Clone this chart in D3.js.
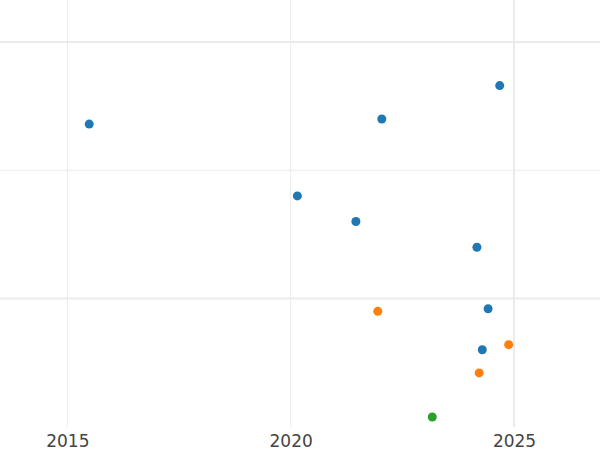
<!DOCTYPE html>
<html>
<head>
<meta charset="utf-8">
<script src="https://cdn.jsdelivr.net/npm/d3@7"></script>
<style>
  html, body { margin: 0; padding: 0; background: #fff; }
  svg { display: block; }
</style>
</head>
<body>
<svg id="chart" width="600" height="450"></svg>
<script>
// Data
const blueX   = [2015.49, 2022.04, 2024.68, 2020.15, 2021.46, 2024.17, 2024.42, 2024.29];
const blueY   = [2.36, 2.40, 2.66, 1.80, 1.60, 1.40, 0.92, 0.60];
const orangeX = [2021.95, 2024.88, 2024.22];
const orangeY = [0.90, 0.64, 0.42];
const greenX  = [2023.17];
const greenY  = [0.076];
const xTicks  = [2015, 2020, 2025];
const yGrid   = [1, 2, 3];

const series = [
  { xs: blueX,   ys: blueY,   color: "#1f77b4" },
  { xs: orangeX, ys: orangeY, color: "#ff7f0e" },
  { xs: greenX,  ys: greenY,  color: "#2ca02c" }
];

const svg = d3.select("#chart");
const x = d3.scaleLinear().domain([2013.493, 2026.925]).range([0, 600]);
const y = d3.scaleLinear().domain([0, 3.3275]).range([426.75, 0]);

const grid = svg.append("g");
grid.selectAll("line.v").data(xTicks).join("line")
  .attr("class", "v")
  .attr("x1", d => x(d)).attr("x2", d => x(d))
  .attr("y1", 0).attr("y2", 427)
  .attr("stroke", "#ebebeb")
  .attr("stroke-width", d => d === 2025 ? 2 : 1);
grid.selectAll("line.h").data(yGrid).join("line")
  .attr("class", "h")
  .attr("x1", 0).attr("x2", 600)
  .attr("y1", d => y(d)).attr("y2", d => y(d))
  .attr("stroke", "#ebebeb")
  .attr("stroke-width", d => d === 2 ? 1 : 2);

const xAxis = d3.axisBottom(x).tickValues(xTicks).tickFormat(d3.format("d")).tickSize(0).tickPadding(8);
const gx = svg.append("g").attr("transform", "translate(0,427)").call(xAxis);
gx.select(".domain").remove();
gx.selectAll("text")
  .attr("fill", "#444")
  .style("font-family", "DejaVu Sans, sans-serif")
  .style("font-size", "17px");

series.forEach(s => {
  const pts = s.xs.map((v, i) => [v, s.ys[i]]);
  svg.append("g").selectAll("circle").data(pts).join("circle")
    .attr("cx", d => x(d[0]))
    .attr("cy", d => y(d[1]))
    .attr("r", 4.5)
    .attr("fill", s.color);
});
</script>
</body>
</html>
